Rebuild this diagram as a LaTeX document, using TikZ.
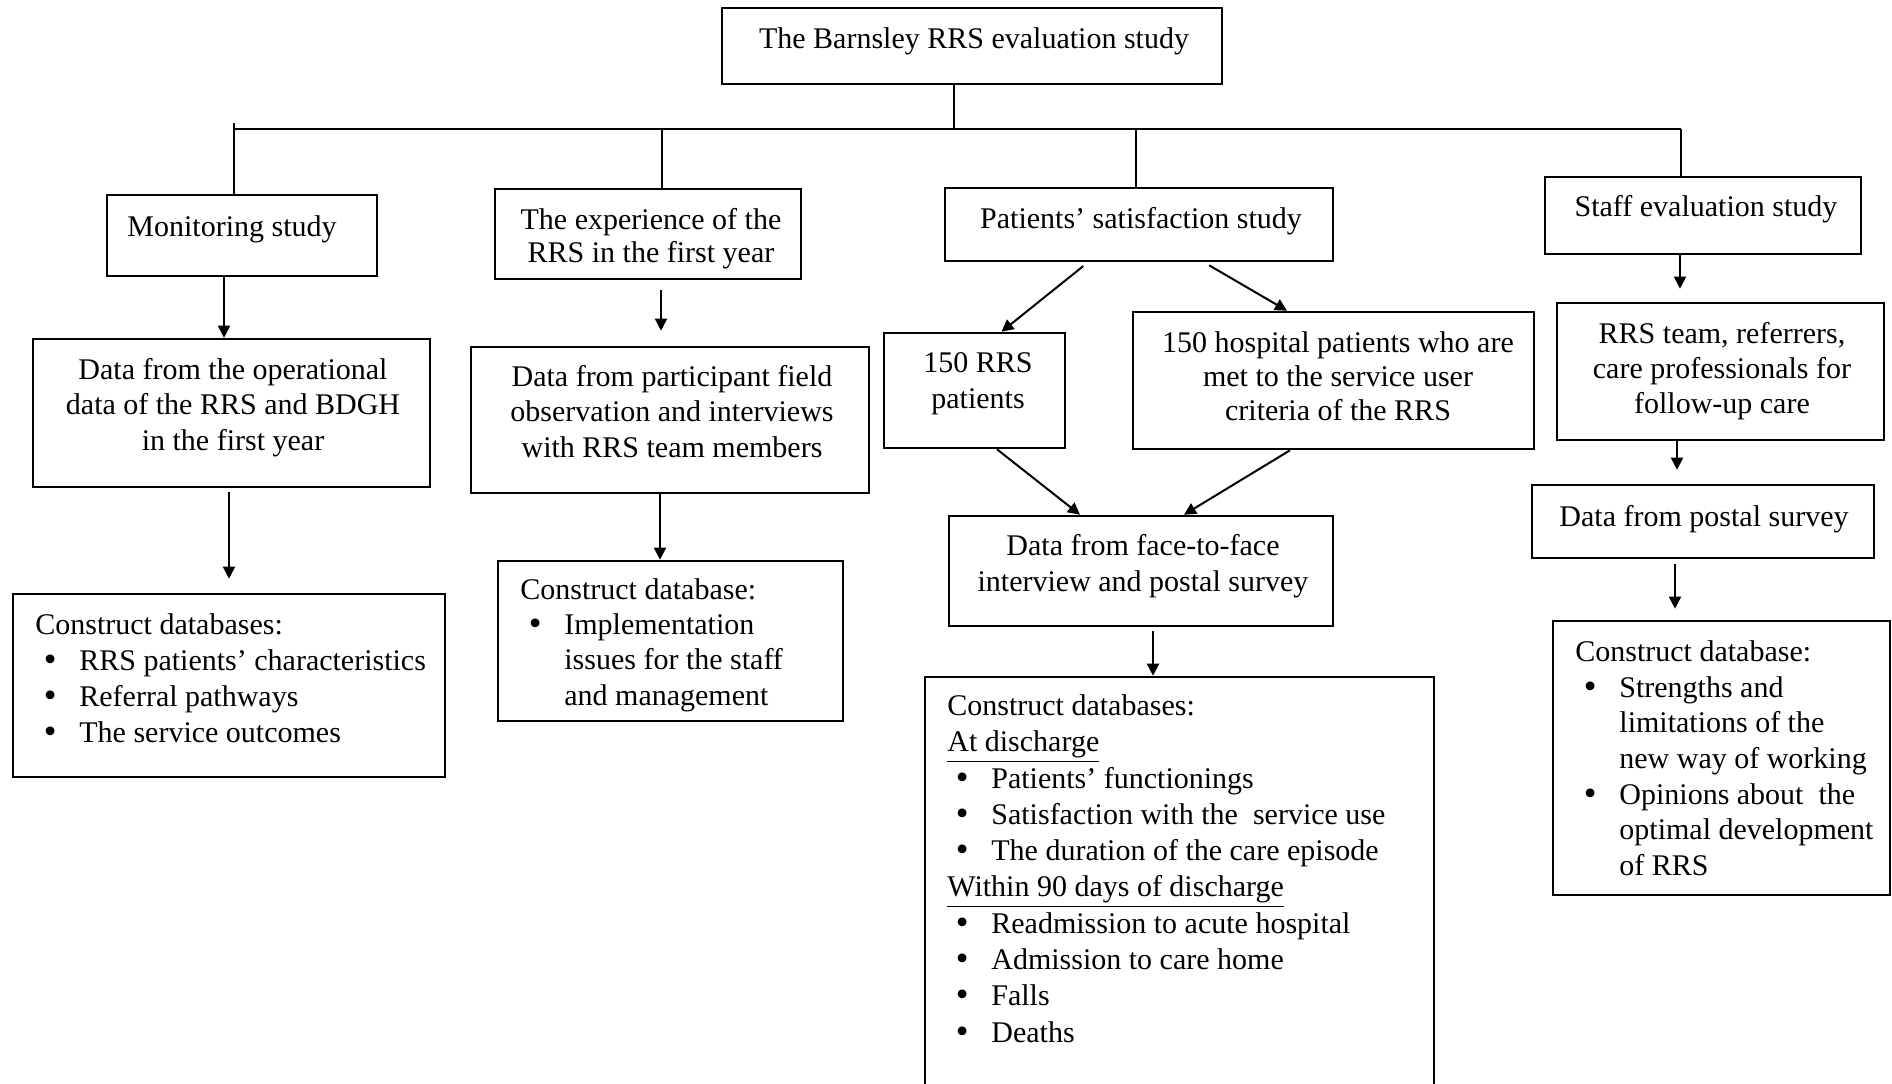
\documentclass[tikz,border=0pt]{standalone}
\usepackage{fontspec}
\setmainfont{Liberation Serif}
\newfontfamily\bulfont{DejaVu Serif}
\usetikzlibrary{arrows.meta,fit,calc}
\newcommand{\itm}{\hspace*{3pt}\makebox[19pt][l]{{\bulfont •}}}
\newcommand{\ind}{\hspace*{22pt}}
\begin{document}
\begin{tikzpicture}[x=0.5pt,y=-0.5pt,
  box/.style={draw, line width=1.3pt, inner sep=0pt},
  txt/.style={inner sep=0pt, font=\fontsize{15}{#1}\selectfont, align=center, anchor=north},
  txt/.default=17.5,
  ltxt/.style={inner sep=0pt, font=\fontsize{15}{#1}\selectfont, align=left, anchor=north west},
  ltxt/.default=17.5,
  conn/.style={line width=1pt},
  arr/.style={line width=1pt, -{Triangle[length=6pt,width=6pt]}}
]
\useasboundingbox (0,0) rectangle (1892,1083);

% boxes
\node[box, fit={(722,8) (1222,84)}] (top) {};
\node[box, fit={(107,195) (377,276)}] (mon) {};
\node[box, fit={(495,189) (801,279)}] (exp) {};
\node[box, fit={(945,188) (1333,261)}] (sat) {};
\node[box, fit={(1545,177) (1861,254)}] (staff) {};
\node[box, fit={(33,339) (430,487)}] (mondata) {};
\node[box, fit={(471,347) (869,493)}] (expdata) {};
\node[box, fit={(884,333) (1065,448)}] (rrs) {};
\node[box, fit={(1133,312) (1534,449)}] (hosp) {};
\node[box, fit={(1557,303) (1884,440)}] (staffrrs) {};
\node[box, fit={(949,516) (1333,626)}] (f2f) {};
\node[box, fit={(1532,485) (1874,558)}] (postal) {};
\node[box, fit={(13,594) (445,777)}] (moncon) {};
\node[box, fit={(498,561) (843,721)}] (expcon) {};
\node[box, fit={(925,677) (1434,1100)}] (patcon) {};
\node[box, fit={(1553,621) (1890,895)}] (staffcon) {};

% texts
\node[txt] (t0) at (974,23.5) {\strut The Barnsley RRS evaluation study};
\node[txt] (t1) at (232,211.5) {\strut Monitoring study};
\node[txt=16.5] (t2) at (651,205.9) {\strut The experience of the\\RRS in the first year};
\node[txt] (t3) at (1141,203.5) {\strut Patients’ satisfaction study};
\node[txt] (t4) at (1706,191.5) {\strut Staff evaluation study};
\node[txt=17.75] (t5) at (233,354) {\strut Data from the operational\\data of the RRS and BDGH\\in the first year};
\node[txt=17.75] (t6) at (672,361) {\strut Data from participant field\\observation and interviews\\with RRS team members};
\node[txt=18] (t7) at (978,346.8) {\strut 150 RRS\\patients};
\node[txt=17.1] (t8) at (1338,328) {\strut 150 hospital patients who are\\met to the service user\\criteria of the RRS};
\node[txt] (t9) at (1722,318.5) {\strut RRS team, referrers,\\care professionals for\\follow-up care};
\node[txt=17.75] (t10) at (1143,530.6) {\strut Data from face-to-face\\interview and postal survey};
\node[txt] (t11) at (1704,501.5) {\strut Data from postal survey};
\node[ltxt=18] (t12) at (35,608.8) {\strut Construct databases:\\
  \itm RRS patients’ characteristics\\
  \itm Referral pathways\\
  \itm The service outcomes};
\node[ltxt=17.6] (t13) at (520,574.4) {\strut Construct database:\\
  \itm Implementation\\
  \ind issues for the staff\\
  \ind and management};
\node[ltxt=18.15] (t14) at (947,689.6) {\strut Construct databases:\\
  \underline{At discharge}\\
  \itm Patients’ functionings\\
  \itm Satisfaction with the\ \ service use\\
  \itm The duration of the care episode\\
  \underline{Within 90 days of discharge}\\
  \itm Readmission to acute hospital\\
  \itm Admission to care home\\
  \itm Falls\\
  \itm Deaths};
\node[ltxt=17.85] (t15) at (1575,636) {\strut Construct database:\\
  \itm Strengths and\\
  \ind limitations of the\\
  \ind new way of working\\
  \itm Opinions about\ \ the\\
  \ind optimal development\\
  \ind of RRS};

% coordinates
\coordinate (bL) at (234,129);
\coordinate (bR) at (1681,129);
\coordinate (bT) at (954,129);
\coordinate (b2) at (662,129);
\coordinate (b3) at (1136,129);
\foreach \n/\v in {a1/224,a2/661,a3/1680,a4/229,a5/660,a6/1153,a7/1677,a8/1675,
  d1s/1088,d1e/1001.5,d2s/1204,d2e/1287,d3s/997,d3e/1080,d4s/1290,d4e/1184}
  \coordinate (\n) at (\v,0);

% bus
\draw[conn] (bL) -- (bR);
\draw[conn] (top.south -| bT) -- (bT);
\draw[conn] ($(bL)+(0,-6)$) -- (bL |- mon.north);
\draw[conn] (b2) -- (b2 |- exp.north);
\draw[conn] (b3) -- (b3 |- sat.north);
\draw[conn] (bR) -- (bR |- staff.north);

% arrows
\draw[arr] (mon.south -| a1) -- (mondata.north -| a1);
\draw[arr, shorten <=5pt, shorten >=7.5pt] (exp.south -| a2) -- (expdata.north -| a2);
\draw[arr, shorten >=6.5pt] (staff.south -| a3) -- (staffrrs.north -| a3);
\draw[arr, shorten <=2pt, shorten >=7pt] (mondata.south -| a4) -- (moncon.north -| a4);
\draw[arr] (expdata.south -| a5) -- (expcon.north -| a5);
\draw[arr, shorten <=2pt] (f2f.south -| a6) -- (patcon.north -| a6);
\draw[arr, shorten >=7pt] (staffrrs.south -| a7) -- (postal.north -| a7);
\draw[arr, shorten <=2.5pt, shorten >=5.5pt] (postal.south -| a8) -- (staffcon.north -| a8);
\draw[arr, shorten <=3pt] (sat.south -| d1s) -- (rrs.north -| d1e);
\draw[arr, shorten <=3pt] (sat.south -| d2s) -- (hosp.north -| d2e);
\draw[arr] (rrs.south -| d3s) -- (f2f.north -| d3e);
\draw[arr] (hosp.south -| d4s) -- (f2f.north -| d4e);
\end{tikzpicture}
\end{document}
